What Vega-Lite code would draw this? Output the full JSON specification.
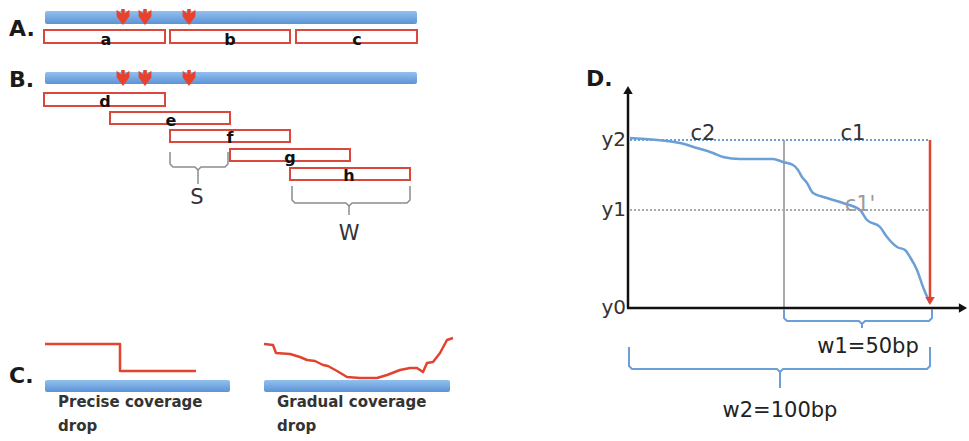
{
  "$schema": "https://vega.github.io/schema/vega-lite/v6.json",
  "width": 969,
  "height": 441,
  "padding": 0,
  "autosize": {"type": "fit", "contains": "padding"},
  "background": "white",
  "config": {"view": {"stroke": null}, "text": {"font": "DejaVu Sans"}},
  "datasets": {
    "bars": [
      {"x": 45, "x2": 417, "y": 11, "y2": 24},
      {"x": 45, "x2": 417, "y": 72, "y2": 84},
      {"x": 45, "x2": 230, "y": 380, "y2": 392},
      {"x": 264, "x2": 450, "y": 380, "y2": 392}
    ],
    "boxes": [
      {"id": "a", "x": 44, "x2": 165, "y": 30, "y2": 43},
      {"id": "b", "x": 170, "x2": 290, "y": 30, "y2": 43},
      {"id": "c", "x": 296, "x2": 417, "y": 30, "y2": 43},
      {"id": "d", "x": 44, "x2": 165, "y": 93, "y2": 106},
      {"id": "e", "x": 110, "x2": 230, "y": 112, "y2": 124},
      {"id": "f", "x": 170, "x2": 290, "y": 130, "y2": 142},
      {"id": "g", "x": 230, "x2": 350, "y": 149, "y2": 161},
      {"id": "h", "x": 290, "x2": 410, "y": 168, "y2": 180}
    ],
    "arrows": [
      {"x": 123, "y": 17}, {"x": 145, "y": 17}, {"x": 189, "y": 17},
      {"x": 123, "y": 78}, {"x": 145, "y": 78}, {"x": 189, "y": 78}
    ],
    "lines": [
      {"s": "red", "id": "step", "i": 0, "x": 45, "y": 344},
      {"s": "red", "id": "step", "i": 1, "x": 120, "y": 344},
      {"s": "red", "id": "step", "i": 2, "x": 120, "y": 371},
      {"s": "red", "id": "step", "i": 3, "x": 196, "y": 371},
      {"s": "red", "id": "grad", "i": 0, "x": 264, "y": 344},
      {"s": "red", "id": "grad", "i": 1, "x": 273, "y": 345},
      {"s": "red", "id": "grad", "i": 2, "x": 276, "y": 353},
      {"s": "red", "id": "grad", "i": 3, "x": 290, "y": 354},
      {"s": "red", "id": "grad", "i": 4, "x": 300, "y": 357},
      {"s": "red", "id": "grad", "i": 5, "x": 307, "y": 360},
      {"s": "red", "id": "grad", "i": 6, "x": 315, "y": 361},
      {"s": "red", "id": "grad", "i": 7, "x": 323, "y": 365},
      {"s": "red", "id": "grad", "i": 8, "x": 328, "y": 366},
      {"s": "red", "id": "grad", "i": 9, "x": 337, "y": 371},
      {"s": "red", "id": "grad", "i": 10, "x": 347, "y": 377},
      {"s": "red", "id": "grad", "i": 11, "x": 360, "y": 378},
      {"s": "red", "id": "grad", "i": 12, "x": 377, "y": 378},
      {"s": "red", "id": "grad", "i": 13, "x": 387, "y": 375},
      {"s": "red", "id": "grad", "i": 14, "x": 400, "y": 370},
      {"s": "red", "id": "grad", "i": 15, "x": 410, "y": 368},
      {"s": "red", "id": "grad", "i": 16, "x": 417, "y": 368},
      {"s": "red", "id": "grad", "i": 17, "x": 423, "y": 372},
      {"s": "red", "id": "grad", "i": 18, "x": 427, "y": 363},
      {"s": "red", "id": "grad", "i": 19, "x": 433, "y": 362},
      {"s": "red", "id": "grad", "i": 20, "x": 440, "y": 353},
      {"s": "red", "id": "grad", "i": 21, "x": 447, "y": 340},
      {"s": "red", "id": "grad", "i": 22, "x": 453, "y": 338},
      {"s": "red", "id": "redD", "i": 0, "x": 930, "y": 140},
      {"s": "red", "id": "redD", "i": 1, "x": 930, "y": 298},
      {"s": "curve", "id": "cv", "i": 0, "x": 630, "y": 138},
      {"s": "curve", "id": "cv", "i": 1, "x": 667, "y": 141},
      {"s": "curve", "id": "cv", "i": 2, "x": 680, "y": 143},
      {"s": "curve", "id": "cv", "i": 3, "x": 697, "y": 148},
      {"s": "curve", "id": "cv", "i": 4, "x": 713, "y": 153},
      {"s": "curve", "id": "cv", "i": 5, "x": 723, "y": 157},
      {"s": "curve", "id": "cv", "i": 6, "x": 740, "y": 159},
      {"s": "curve", "id": "cv", "i": 7, "x": 773, "y": 159},
      {"s": "curve", "id": "cv", "i": 8, "x": 783, "y": 162},
      {"s": "curve", "id": "cv", "i": 9, "x": 793, "y": 165},
      {"s": "curve", "id": "cv", "i": 10, "x": 798, "y": 170},
      {"s": "curve", "id": "cv", "i": 11, "x": 802, "y": 177},
      {"s": "curve", "id": "cv", "i": 12, "x": 807, "y": 183},
      {"s": "curve", "id": "cv", "i": 13, "x": 813, "y": 193},
      {"s": "curve", "id": "cv", "i": 14, "x": 827, "y": 198},
      {"s": "curve", "id": "cv", "i": 15, "x": 843, "y": 203},
      {"s": "curve", "id": "cv", "i": 16, "x": 860, "y": 210},
      {"s": "curve", "id": "cv", "i": 17, "x": 867, "y": 220},
      {"s": "curve", "id": "cv", "i": 18, "x": 880, "y": 227},
      {"s": "curve", "id": "cv", "i": 19, "x": 887, "y": 237},
      {"s": "curve", "id": "cv", "i": 20, "x": 897, "y": 247},
      {"s": "curve", "id": "cv", "i": 21, "x": 905, "y": 250},
      {"s": "curve", "id": "cv", "i": 22, "x": 910, "y": 257},
      {"s": "curve", "id": "cv", "i": 23, "x": 917, "y": 270},
      {"s": "curve", "id": "cv", "i": 24, "x": 923, "y": 287},
      {"s": "curve", "id": "cv", "i": 25, "x": 930, "y": 303},
      {"s": "bbr", "id": "w1", "i": 0, "x": 784, "y": 309},
      {"s": "bbr", "id": "w1", "i": 1, "x": 784, "y": 318},
      {"s": "bbr", "id": "w1", "i": 2, "x": 787, "y": 321},
      {"s": "bbr", "id": "w1", "i": 3, "x": 859, "y": 321},
      {"s": "bbr", "id": "w1", "i": 4, "x": 862, "y": 324},
      {"s": "bbr", "id": "w1", "i": 5, "x": 865, "y": 321},
      {"s": "bbr", "id": "w1", "i": 6, "x": 929, "y": 321},
      {"s": "bbr", "id": "w1", "i": 7, "x": 932, "y": 318},
      {"s": "bbr", "id": "w1", "i": 8, "x": 932, "y": 309},
      {"s": "bbr", "id": "w1s", "i": 0, "x": 862, "y": 324},
      {"s": "bbr", "id": "w1s", "i": 1, "x": 862, "y": 328},
      {"s": "bbr", "id": "w2", "i": 0, "x": 629, "y": 347},
      {"s": "bbr", "id": "w2", "i": 1, "x": 629, "y": 366},
      {"s": "bbr", "id": "w2", "i": 2, "x": 632, "y": 369},
      {"s": "bbr", "id": "w2", "i": 3, "x": 777, "y": 369},
      {"s": "bbr", "id": "w2", "i": 4, "x": 780, "y": 372},
      {"s": "bbr", "id": "w2", "i": 5, "x": 783, "y": 369},
      {"s": "bbr", "id": "w2", "i": 6, "x": 927, "y": 369},
      {"s": "bbr", "id": "w2", "i": 7, "x": 930, "y": 366},
      {"s": "bbr", "id": "w2", "i": 8, "x": 930, "y": 347},
      {"s": "bbr", "id": "w2s", "i": 0, "x": 780, "y": 372},
      {"s": "bbr", "id": "w2s", "i": 1, "x": 780, "y": 388},
      {"s": "gbr", "id": "S", "i": 0, "x": 170, "y": 152},
      {"s": "gbr", "id": "S", "i": 1, "x": 170, "y": 164},
      {"s": "gbr", "id": "S", "i": 2, "x": 173, "y": 167},
      {"s": "gbr", "id": "S", "i": 3, "x": 195, "y": 167},
      {"s": "gbr", "id": "S", "i": 4, "x": 198, "y": 170},
      {"s": "gbr", "id": "S", "i": 5, "x": 201, "y": 167},
      {"s": "gbr", "id": "S", "i": 6, "x": 225, "y": 167},
      {"s": "gbr", "id": "S", "i": 7, "x": 228, "y": 164},
      {"s": "gbr", "id": "S", "i": 8, "x": 228, "y": 152},
      {"s": "gbr", "id": "Ss", "i": 0, "x": 198, "y": 170},
      {"s": "gbr", "id": "Ss", "i": 1, "x": 198, "y": 184},
      {"s": "gbr", "id": "W", "i": 0, "x": 292, "y": 186},
      {"s": "gbr", "id": "W", "i": 1, "x": 292, "y": 200},
      {"s": "gbr", "id": "W", "i": 2, "x": 295, "y": 203},
      {"s": "gbr", "id": "W", "i": 3, "x": 346, "y": 203},
      {"s": "gbr", "id": "W", "i": 4, "x": 349, "y": 206},
      {"s": "gbr", "id": "W", "i": 5, "x": 352, "y": 203},
      {"s": "gbr", "id": "W", "i": 6, "x": 407, "y": 203},
      {"s": "gbr", "id": "W", "i": 7, "x": 410, "y": 200},
      {"s": "gbr", "id": "W", "i": 8, "x": 410, "y": 186},
      {"s": "gbr", "id": "Ws", "i": 0, "x": 349, "y": 206},
      {"s": "gbr", "id": "Ws", "i": 1, "x": 349, "y": 215}
    ],
    "rules": [
      {"s": "gray", "x": 784, "x2": 784, "y": 140, "y2": 308},
      {"s": "axis", "x": 628, "x2": 628, "y": 90, "y2": 308},
      {"s": "axis", "x": 627, "x2": 962, "y": 308, "y2": 308},
      {"s": "dotblue", "x": 630, "x2": 930, "y": 140, "y2": 140},
      {"s": "dotgray", "x": 630, "x2": 930, "y": 210, "y2": 210}
    ],
    "heads": [
      {"s": "axis", "shape": "up", "x": 628, "y": 90},
      {"s": "axis", "shape": "right", "x": 963, "y": 308},
      {"s": "red", "shape": "down", "x": 930, "y": 301}
    ],
    "texts": [
      {"s": "panel", "x": 9, "y": 36, "t": "A."},
      {"s": "panel", "x": 9, "y": 87, "t": "B."},
      {"s": "panel", "x": 9, "y": 383, "t": "C."},
      {"s": "panel", "x": 586, "y": 86, "t": "D."},
      {"s": "lab", "x": 106, "y": 45, "t": "a"},
      {"s": "lab", "x": 230, "y": 45, "t": "b"},
      {"s": "lab", "x": 357, "y": 45, "t": "c"},
      {"s": "lab", "x": 105, "y": 107, "t": "d"},
      {"s": "lab", "x": 171, "y": 126, "t": "e"},
      {"s": "lab", "x": 230, "y": 143, "t": "f"},
      {"s": "lab", "x": 290, "y": 163, "t": "g"},
      {"s": "lab", "x": 349, "y": 181, "t": "h"},
      {"s": "cap", "x": 58, "y": 407, "t": "Precise coverage"},
      {"s": "cap", "x": 58, "y": 431, "t": "drop"},
      {"s": "cap", "x": 277, "y": 407, "t": "Gradual coverage"},
      {"s": "cap", "x": 277, "y": 431, "t": "drop"},
      {"s": "big", "x": 197, "y": 204, "t": "S"},
      {"s": "big", "x": 349, "y": 240, "t": "W"},
      {"s": "big", "x": 703, "y": 140, "t": "c2"},
      {"s": "big", "x": 853, "y": 140, "t": "c1"},
      {"s": "grey", "x": 860, "y": 211, "t": "c1'"},
      {"s": "yl", "x": 626, "y": 140, "t": "y2"},
      {"s": "yl", "x": 626, "y": 210, "t": "y1"},
      {"s": "yl", "x": 626, "y": 308, "t": "y0"},
      {"s": "wl", "x": 868, "y": 353, "t": "w1=50bp"},
      {"s": "wl", "x": 780, "y": 417, "t": "w2=100bp"}
    ]
  },
  "encoding": {
    "x": {"field": "x", "type": "quantitative", "scale": {"domain": [0, 969], "nice": false, "zero": false}, "axis": null},
    "y": {"field": "y", "type": "quantitative", "scale": {"domain": [0, 441], "nice": false, "zero": false, "reverse": true}, "axis": null}
  },
  "layer": [
    {
      "data": {"name": "bars"},
      "mark": {"type": "rect", "cornerRadius": 2, "fill": {"x1": 0, "y1": 0, "x2": 0, "y2": 1, "gradient": "linear", "stops": [{"offset": 0, "color": "#93c0ee"}, {"offset": 1, "color": "#5b93d6"}]}},
      "encoding": {"x2": {"field": "x2"}, "y2": {"field": "y2"}}
    },
    {
      "data": {"name": "boxes"},
      "mark": {"type": "rect", "fill": "white", "stroke": "#d9473d", "strokeWidth": 2},
      "encoding": {"x2": {"field": "x2"}, "y2": {"field": "y2"}}
    },
    {
      "data": {"name": "arrows"},
      "mark": {"type": "point", "filled": true, "color": "#e8412c", "opacity": 1, "size": 256, "shape": "M-0.22,-1 L0.22,-1 L0.22,-0.45 L0.8,-0.9 L0.8,-0.1 L0,1 L-0.8,-0.1 L-0.8,-0.9 L-0.22,-0.45 Z"}
    },
    {
      "data": {"name": "rules"},
      "transform": [{"filter": "datum.s == 'gray'"}],
      "mark": {"type": "rule", "color": "#a9a9a9", "strokeWidth": 2},
      "encoding": {"x2": {"field": "x2"}, "y2": {"field": "y2"}}
    },
    {
      "data": {"name": "rules"},
      "transform": [{"filter": "datum.s == 'dotblue'"}],
      "mark": {"type": "rule", "color": "#6c9fd6", "strokeWidth": 2, "strokeDash": [2, 2]},
      "encoding": {"x2": {"field": "x2"}, "y2": {"field": "y2"}}
    },
    {
      "data": {"name": "rules"},
      "transform": [{"filter": "datum.s == 'dotgray'"}],
      "mark": {"type": "rule", "color": "#aaaaaa", "strokeWidth": 2, "strokeDash": [2, 2]},
      "encoding": {"x2": {"field": "x2"}, "y2": {"field": "y2"}}
    },
    {
      "data": {"name": "rules"},
      "transform": [{"filter": "datum.s == 'axis'"}],
      "mark": {"type": "rule", "color": "#111111", "strokeWidth": 2.5},
      "encoding": {"x2": {"field": "x2"}, "y2": {"field": "y2"}}
    },
    {
      "data": {"name": "lines"},
      "transform": [{"filter": "datum.s == 'gbr'"}],
      "mark": {"type": "line", "color": "#8c8c8c", "strokeWidth": 1.5, "strokeJoin": "round"},
      "encoding": {"detail": {"field": "id"}, "order": {"field": "i", "type": "quantitative"}}
    },
    {
      "data": {"name": "lines"},
      "transform": [{"filter": "datum.s == 'bbr'"}],
      "mark": {"type": "line", "color": "#6c9fd6", "strokeWidth": 2, "strokeJoin": "round"},
      "encoding": {"detail": {"field": "id"}, "order": {"field": "i", "type": "quantitative"}}
    },
    {
      "data": {"name": "lines"},
      "transform": [{"filter": "datum.s == 'curve'"}],
      "mark": {"type": "line", "color": "#6c9fd6", "strokeWidth": 2.5, "strokeJoin": "round", "interpolate": "monotone"},
      "encoding": {"detail": {"field": "id"}, "order": {"field": "i", "type": "quantitative"}}
    },
    {
      "data": {"name": "lines"},
      "transform": [{"filter": "datum.s == 'red'"}],
      "mark": {"type": "line", "color": "#e2432f", "strokeWidth": 2.5, "strokeJoin": "round"},
      "encoding": {"detail": {"field": "id"}, "order": {"field": "i", "type": "quantitative"}}
    },
    {
      "data": {"name": "heads"},
      "transform": [{"filter": "datum.shape == 'up'"}],
      "mark": {"type": "point", "shape": "triangle-up", "filled": true, "color": "#111111", "opacity": 1, "size": 90}
    },
    {
      "data": {"name": "heads"},
      "transform": [{"filter": "datum.shape == 'right'"}],
      "mark": {"type": "point", "shape": "triangle-right", "filled": true, "color": "#111111", "opacity": 1, "size": 90}
    },
    {
      "data": {"name": "heads"},
      "transform": [{"filter": "datum.shape == 'down'"}],
      "mark": {"type": "point", "shape": "triangle-down", "filled": true, "color": "#e2432f", "opacity": 1, "size": 90}
    },
    {
      "data": {"name": "texts"},
      "transform": [{"filter": "datum.s == 'panel'"}],
      "mark": {"type": "text", "align": "left", "baseline": "alphabetic", "fontSize": 22, "fontWeight": "bold", "color": "#1a1a1a"},
      "encoding": {"text": {"field": "t"}}
    },
    {
      "data": {"name": "texts"},
      "transform": [{"filter": "datum.s == 'lab'"}],
      "mark": {"type": "text", "align": "center", "baseline": "alphabetic", "fontSize": 16, "fontWeight": "bold", "color": "#111111"},
      "encoding": {"text": {"field": "t"}}
    },
    {
      "data": {"name": "texts"},
      "transform": [{"filter": "datum.s == 'cap'"}],
      "mark": {"type": "text", "align": "left", "baseline": "alphabetic", "fontSize": 15, "fontWeight": "bold", "color": "#333333"},
      "encoding": {"text": {"field": "t"}}
    },
    {
      "data": {"name": "texts"},
      "transform": [{"filter": "datum.s == 'big'"}],
      "mark": {"type": "text", "align": "center", "baseline": "alphabetic", "fontSize": 21, "color": "#333333"},
      "encoding": {"text": {"field": "t"}}
    },
    {
      "data": {"name": "texts"},
      "transform": [{"filter": "datum.s == 'grey'"}],
      "mark": {"type": "text", "align": "center", "baseline": "alphabetic", "fontSize": 21, "color": "#9a9a9a"},
      "encoding": {"text": {"field": "t"}}
    },
    {
      "data": {"name": "texts"},
      "transform": [{"filter": "datum.s == 'yl'"}],
      "mark": {"type": "text", "align": "right", "baseline": "middle", "fontSize": 20, "color": "#333333"},
      "encoding": {"text": {"field": "t"}}
    },
    {
      "data": {"name": "texts"},
      "transform": [{"filter": "datum.s == 'wl'"}],
      "mark": {"type": "text", "align": "center", "baseline": "alphabetic", "fontSize": 21, "color": "#222222"},
      "encoding": {"text": {"field": "t"}}
    }
  ]
}
